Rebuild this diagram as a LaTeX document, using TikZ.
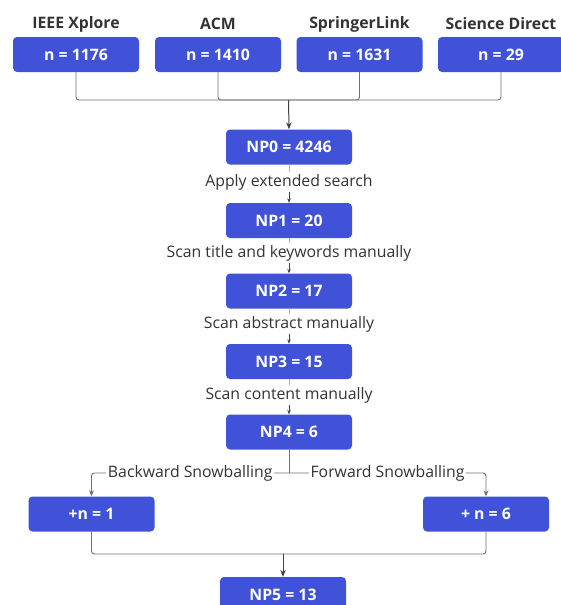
\documentclass[tikz,border=0pt]{standalone}
\usepackage{fontspec}
\setmainfont{Open Sans}
\usetikzlibrary{arrows.meta,calc}
\definecolor{boxblue}{HTML}{3F52D8}
\definecolor{txtgray}{HTML}{333333}
\definecolor{linegray}{HTML}{707070}
\definecolor{darkline}{HTML}{404040}
\definecolor{lightline}{HTML}{B0B0B0}
\tikzset{
  bluebox/.style={fill=boxblue, rounded corners=4pt, minimum width=126pt, minimum height=35pt,
    text=white, font=\fontsize{15.8}{18}\selectfont\bfseries, inner sep=0pt},
  title/.style={text=txtgray, font=\fontsize{15.8}{18}\selectfont\bfseries, inner sep=1pt},
  steplabel/.style={text=txtgray, font=\fontsize{15.8}{18}\selectfont, inner sep=1.5pt, fill=white},
  conn/.style={draw=linegray, line width=0.9pt, rounded corners=3pt},
  arr/.style={conn, -{Stealth[length=6pt,width=5pt]}},
  darr/.style={draw=darkline, line width=1pt, -{Stealth[length=7pt,width=5.5pt]}},
  faint/.style={draw=lightline, line width=0.7pt},
  farr/.style={draw=darkline, line width=0.6pt, -{Stealth[length=4.5pt,width=3.5pt]}}
}
\begin{document}
\begin{tikzpicture}[x=1pt,y=-1pt]
\useasboundingbox (0,0) rectangle (561,605);
\clip (0,0) rectangle (561,605);
% sources
\node[title] (t1) at (76,24) {IEEE Xplore};
\node[title] (t2) at (218,24) {ACM};
\node[title] (t3) at (359.5,24) {SpringerLink};
\node[title] (t4) at (501,24) {Science Direct};
\node[bluebox] (s1) at (76,54.5) {n = 1176};
\node[bluebox] (s2) at (218,54.5) {n = 1410};
\node[bluebox] (s3) at (359.5,54.5) {n = 1631};
\node[bluebox] (s4) at (501,54.5) {n = 29};
% chain
\node[bluebox] (np0) at (289,147) {NP0 = 4246};
\node[bluebox] (np1) at (289,220.5) {NP1 = 20};
\node[bluebox] (np2) at (289,291) {NP2 = 17};
\node[bluebox] (np3) at (289,361.5) {NP3 = 15};
\node[bluebox] (np4) at (289,432) {NP4 = 6};
\node[steplabel] (l1) at (289,182) {Apply extended search};
\node[steplabel] (l2) at (289,253) {Scan title and keywords manually};
\node[steplabel] (l3) at (289,324) {Scan abstract manually};
\node[steplabel] (l4) at (289,395) {Scan content manually};
% snowballing
\node[bluebox] (bw) at (91.5,514) {+n = 1};
\node[bluebox] (fw) at (486,514) {+ n = 6};
\node[bluebox] (np5) at (283,594.5) {NP5 = 13};
\coordinate (top) at (288.5,100);
\coordinate (sb) at (289,473);
\coordinate (bot) at (283,554);
% top connectors
\draw[conn] (s1.south) |- (top);
\draw[conn] (s2.south) |- (top);
\draw[conn] (s3.south) |- (top);
\draw[conn] (s4.south) |- (top);
\draw[darr] (top) -- (np0.north);
% chain connectors
\foreach \a/\l/\b in {np0/l1/np1, np1/l2/np2, np2/l3/np3, np3/l4/np4}{
  \draw[faint] (\a.south) -- (\l.north);
  \draw[farr] (\l.south) -- (\b.north);
}
% snowball connectors
\draw[conn] (np4.south) -- (sb);
\draw[arr] (sb) -- node[steplabel]{Backward Snowballing} (sb -| bw.north) -- (bw.north);
\draw[arr] (sb) -- node[steplabel]{Forward Snowballing} (sb -| fw.north) -- (fw.north);
\draw[conn] (bw.south) |- (bot);
\draw[conn] (fw.south) |- (bot);
\draw[darr] (bot) -- (np5.north);
\end{tikzpicture}
\end{document}
